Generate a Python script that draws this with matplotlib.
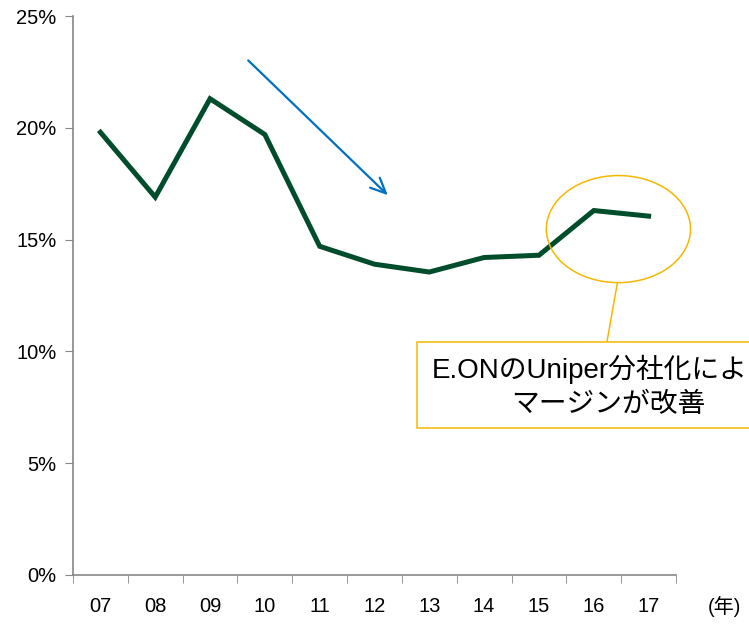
import matplotlib
matplotlib.use("Agg")
import matplotlib.pyplot as plt
from matplotlib.patches import Ellipse, Rectangle

plt.rcParams["font.family"] = ["Liberation Sans", "Noto Sans CJK JP", "DejaVu Sans"]

years = ["07", "08", "09", "10", "11", "12", "13", "14", "15", "16", "17"]
margin = [19.8, 16.9, 21.3, 19.7, 14.7, 13.9, 13.55, 14.2, 14.3, 16.3, 16.05]
y_ticks = [0, 5, 10, 15, 20, 25]

GRAY = "#868686"
GREEN = "#004d2c"
BLUE = "#0070c0"
GOLD = "#f5b800"

fig = plt.figure(figsize=(7.49, 6.24), dpi=100)
W, H = 749, 624
ax = fig.add_axes([73 / W, 49 / H, (676 - 73) / W, (575 - 16) / H])

x = list(range(len(years)))
ax.plot(x, margin, color=GREEN, linewidth=3.6, solid_joinstyle="miter", zorder=3)

ax.set_xlim(-0.5, len(years) - 0.5)
ax.set_ylim(0, 25)
ax.set_yticks(y_ticks)
ax.set_yticklabels([f"{v}%" for v in y_ticks], fontsize=14.5)
ax.set_xticks(x)
ax.set_xticklabels(years, fontsize=14.5)
ax.set_xticks([i - 0.5 for i in range(len(years) + 1)], minor=True)
ax.tick_params(axis="x", which="major", length=0, pad=16)
ax.tick_params(axis="x", which="minor", length=6, color=GRAY, direction="out")
ax.tick_params(axis="y", length=6, color=GRAY, pad=6)

for side in ["top", "right"]:
    ax.spines[side].set_visible(False)
for side in ["left", "bottom"]:
    ax.spines[side].set_color(GRAY)
    ax.spines[side].set_linewidth(1.2)

# downward trend arrow
ax.annotate("", xy=(5.28, 16.9), xytext=(2.66, 23.1),
            arrowprops=dict(arrowstyle="->,head_length=1.1,head_width=0.5",
                            color=BLUE, linewidth=1.6))

# highlight ellipse and callout (box runs past the right edge, as in the source)
ax.add_patch(Ellipse((9.45, 15.47), 2.63, 4.79, fill=False, edgecolor=GOLD,
                     linewidth=1.1, zorder=4, clip_on=False))
ax.plot([9.43, 9.24], [13.06, 10.42], color=GOLD, linewidth=1.1, clip_on=False)
ax.add_patch(Rectangle((5.78, 6.57), 7.0, 3.85, facecolor="white",
                       edgecolor=GOLD, linewidth=1.1, clip_on=False, zorder=5))
ax.text(6.04, 9.2, "E.ONのUniper分社化により", ha="left", va="center",
        fontsize=20, zorder=6, clip_on=False)
ax.text(9.26, 7.6, "マージンが改善", ha="center", va="center",
        fontsize=20, zorder=6, clip_on=False)

fig.text(708 / W, 1 - 607 / H, "(年)", fontsize=14.5, va="center", ha="left")

fig.savefig("out.png", dpi=100)
